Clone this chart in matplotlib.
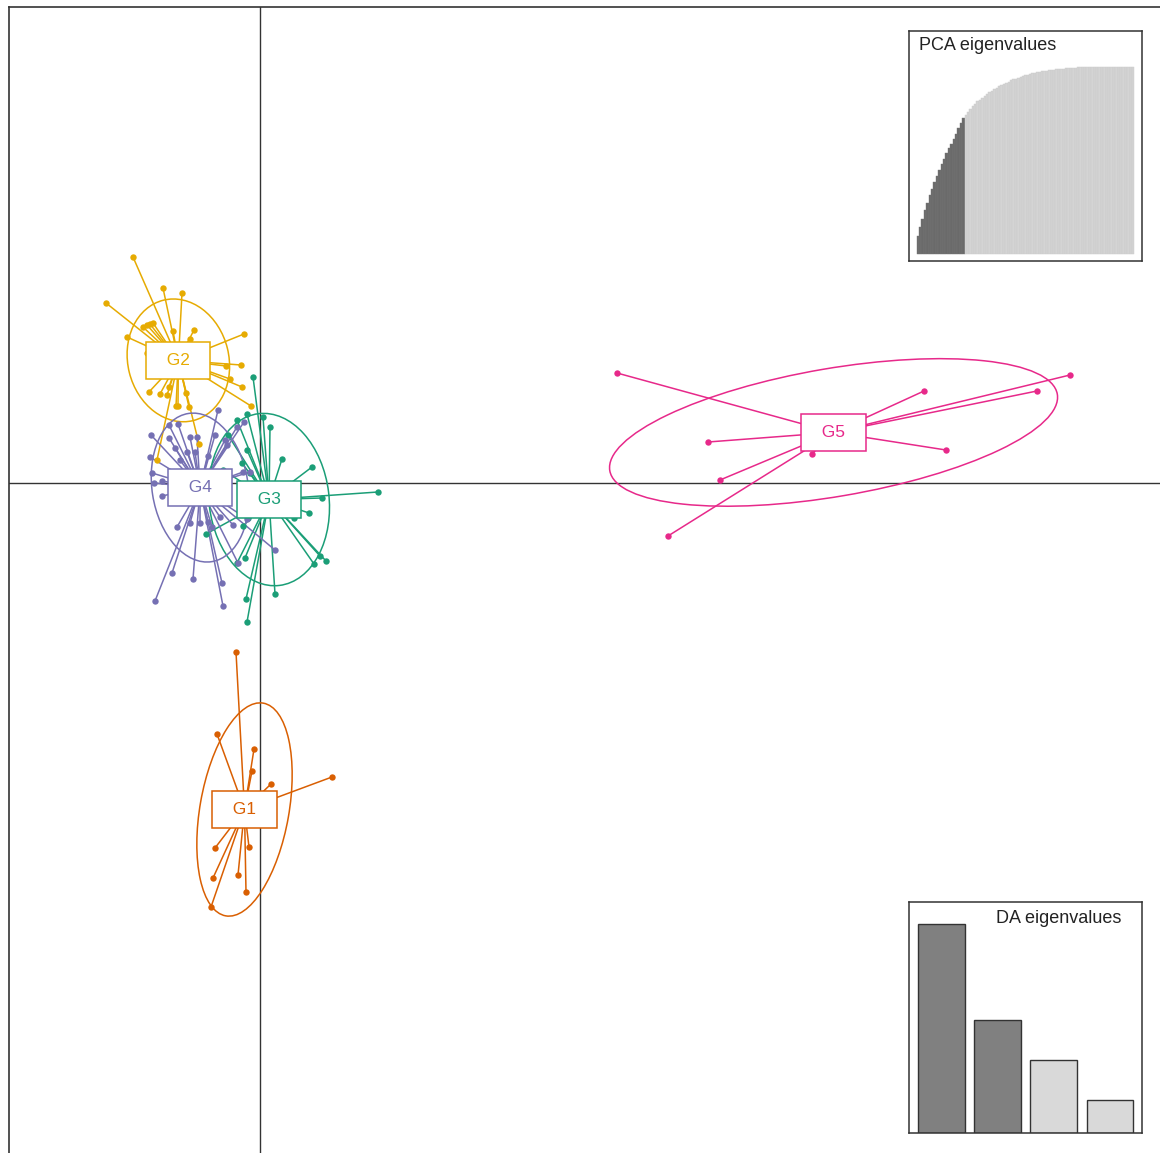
import numpy as np
import matplotlib
matplotlib.use("Agg")
import matplotlib.pyplot as plt
from matplotlib.patches import Ellipse
from matplotlib.collections import LineCollection

plt.rcParams['font.family'] = ['Liberation Sans', 'DejaVu Sans']

# discriminant function scores (LD1, LD2) per cluster
g1 = [(-0.24, -1.69), (-0.43, -2.51), (-0.06, -2.66), (-0.08, -2.88), (0.11, -3.01),
      (0.72, -2.94), (-0.45, -3.65), (-0.11, -3.64), (-0.47, -3.95), (-0.22, -3.92),
      (-0.14, -4.09), (-0.49, -4.24)]
g2 = [(-1.27, 2.26), (-0.97, 1.95), (-0.78, 1.90), (-1.54, 1.80), (-1.17, 1.56),
      (-1.13, 1.58), (-1.10, 1.59), (-1.07, 1.60), (-0.87, 1.52), (-0.66, 1.53),
      (-0.70, 1.44), (-0.16, 1.49), (-1.33, 1.46), (-1.13, 1.30), (-0.34, 1.17),
      (-0.19, 1.18), (-0.30, 1.04), (-0.18, 0.96), (-0.09, 0.77), (-1.11, 0.91),
      (-1.00, 0.89), (-0.93, 0.88), (-0.91, 0.96), (-0.84, 0.77), (-0.82, 0.77),
      (-0.74, 0.90), (-0.71, 0.76), (-0.61, 0.39), (-1.03, 0.23)]
g3 = [(-0.07, 1.06), (-0.13, 0.69), (0.03, 0.66), (-0.23, 0.63), (0.10, 0.56),
      (-0.32, 0.48), (-0.13, 0.33), (0.22, 0.24), (0.52, 0.16), (-0.18, 0.20),
      (-0.10, 0.10), (-0.37, 0.13), (1.18, -0.09), (0.62, -0.15), (0.49, -0.30),
      (-0.54, -0.51), (-0.17, -0.43), (-0.12, -0.35), (-0.15, -0.75), (-0.23, -0.80),
      (0.60, -0.73), (0.66, -0.78), (0.54, -0.81), (0.15, -1.11), (-0.14, -1.16),
      (-0.13, -1.39), (0.34, -0.35)]
g4 = [(-0.42, 0.73), (-0.82, 0.59), (-0.91, 0.58), (-1.09, 0.48), (-0.91, 0.45),
      (-0.70, 0.46), (-0.63, 0.46), (-0.16, 0.61), (-0.23, 0.56), (-0.45, 0.48),
      (-0.35, 0.43), (-0.33, 0.38), (-0.85, 0.35), (-0.73, 0.31), (-0.65, 0.31),
      (-1.10, 0.26), (-0.80, 0.23), (-0.52, 0.27), (-1.08, 0.10), (-1.06, 0.00),
      (-0.98, 0.02), (-0.98, -0.13), (-0.83, -0.44), (-0.70, -0.40), (-0.60, -0.40),
      (-0.52, -0.39), (-0.48, -0.44), (-0.40, -0.34), (-0.27, -0.42), (-0.13, -0.36),
      (0.15, -0.67), (-0.22, -0.80), (-0.88, -0.90), (-0.67, -0.96), (-0.38, -1.00),
      (-1.05, -1.18), (-0.37, -1.23), (-0.10, 0.11), (-0.17, 0.11)]
g5 = [(3.57, 1.10), (6.64, 0.92), (8.10, 1.08), (7.77, 0.92), (4.48, 0.41),
      (6.86, 0.33), (5.52, 0.29), (4.60, 0.03), (4.08, -0.53)]

groups = ["G1", "G2", "G3", "G4", "G5"]
scores = [g1, g2, g3, g4, g5]
colors = ["#D95F02", "#E6AB02", "#1B9E77", "#7570B3", "#E7298A"]

# ellipse semi-axes and orientation (degrees)
ell_a = [1.08, 0.62, 0.865, 0.75, 2.27]
ell_b = [0.445, 0.505, 0.60, 0.48, 0.64]
ell_ang = [80, 104, 97, 99, 9.7]

# eigenvalue insets
pca_cum = [0.100, 0.145, 0.190, 0.235, 0.275, 0.315, 0.350, 0.385, 0.420, 0.450,
           0.480, 0.510, 0.540, 0.565, 0.590, 0.615, 0.640, 0.675, 0.700, 0.725,
           0.745, 0.760, 0.775, 0.790, 0.800, 0.815, 0.825, 0.835, 0.845, 0.855,
           0.865, 0.873, 0.880, 0.888, 0.895, 0.902, 0.909, 0.915, 0.921, 0.927,
           0.932, 0.937, 0.942, 0.946, 0.950, 0.954, 0.958, 0.961, 0.964, 0.967,
           0.970, 0.973, 0.975, 0.977, 0.979, 0.981, 0.983, 0.985, 0.986, 0.988,
           0.989, 0.990, 0.991, 0.992, 0.993, 0.994, 0.995, 0.996, 0.997, 0.997,
           0.998, 0.998, 0.999, 0.999, 1.000, 1.000, 1.000, 1.000, 1.000, 1.000,
           1.000, 1.000, 1.000, 1.000, 1.000, 1.000, 1.000, 1.000, 1.000, 1.000,
           1.000]
n_pca = 20
da_eig = [1.00, 0.54, 0.35, 0.16]
n_da = 2

W, H = 1160, 1153
fig = plt.figure(figsize=(W / 100, H / 100), dpi=100)

ax = fig.add_axes([9 / W, -10 / H, 1161 / W, 1156 / H])
ax.set_xlim(-2.51, 9.10)
ax.set_ylim(-6.80, 4.76)
ax.set_xticks([])
ax.set_yticks([])
for s in ax.spines.values():
    s.set_linewidth(1.2)
    s.set_color('#333333')

ax.axhline(0, color='#333333', lw=1.0, zorder=1)
ax.axvline(0, color='#333333', lw=1.0, zorder=1)

centers = []
for pts, col in zip(scores, colors):
    p = np.array(pts)
    c = p.mean(axis=0)
    centers.append(c)
    segs = [[c, q] for q in p]
    ax.add_collection(LineCollection(segs, colors=col, linewidths=1.1, zorder=2))

for c, col, a, b, ang in zip(centers, colors, ell_a, ell_b, ell_ang):
    ax.add_patch(Ellipse(c, 2 * a, 2 * b, angle=ang, fill=False,
                         edgecolor=col, lw=1.1, zorder=3))

for pts, col in zip(scores, colors):
    p = np.array(pts)
    ax.plot(p[:, 0], p[:, 1], 'o', color=col, ms=4.6, mew=0, zorder=4)

for c, col, g in zip(centers, colors, groups):
    ax.text(c[0], c[1], "  " + g + "  ", color=col, fontsize=12.5,
            ha='center', va='center', zorder=5,
            bbox=dict(boxstyle='square,pad=0.62', fc='white', ec=col, lw=1.1))

# PCA eigenvalues inset (cumulative)
axp = fig.add_axes([909.3 / W, (H - 260.7) / H, 232.4 / W, 229.7 / H])
n = len(pca_cum)
xs = np.arange(n)
pcol = ['#6a6a6a' if i < n_pca else '#d4d4d4' for i in range(n)]
pedge = ['#777777' if i < n_pca else '#cacaca' for i in range(n)]
axp.bar(xs, pca_cum, width=1.0, align='edge', color=pcol, edgecolor=pedge, lw=0.3)
padx = 7.4 / 217.6 * n
axp.set_xlim(-padx, n + padx)
axp.set_ylim(-6.4 / 187.6, 1 + 35.7 / 187.6)
axp.set_xticks([])
axp.set_yticks([])
for s in axp.spines.values():
    s.set_linewidth(1.1)
    s.set_color('#333333')
axp.text(0.04, 0.935, "PCA eigenvalues", transform=axp.transAxes,
         fontsize=13, ha='left', va='center', color='#222222')

# DA eigenvalues inset
axd = fig.add_axes([909.3 / W, (H - 1133.3) / H, 232.4 / W, 231 / H])
dcol = ['#808080' if i < n_da else '#d9d9d9' for i in range(len(da_eig))]
axd.bar(np.arange(len(da_eig)) * 1.2 + 0.2, da_eig, width=1.0, align='edge',
        color=dcol, edgecolor='#333333', lw=1.0)
unit = 46.7
axd.set_xlim(0.2 - 9.0 / unit, 4.8 + 8.4 / unit)
axd.set_ylim(0, 231 / 209.4 * da_eig[0])
axd.set_xticks([])
axd.set_yticks([])
for s in axd.spines.values():
    s.set_linewidth(1.1)
    s.set_color('#333333')
axd.text(0.913, 0.928, "DA eigenvalues", transform=axd.transAxes,
         fontsize=13, ha='right', va='center', color='#222222')

fig.savefig("out.png", dpi=100)
